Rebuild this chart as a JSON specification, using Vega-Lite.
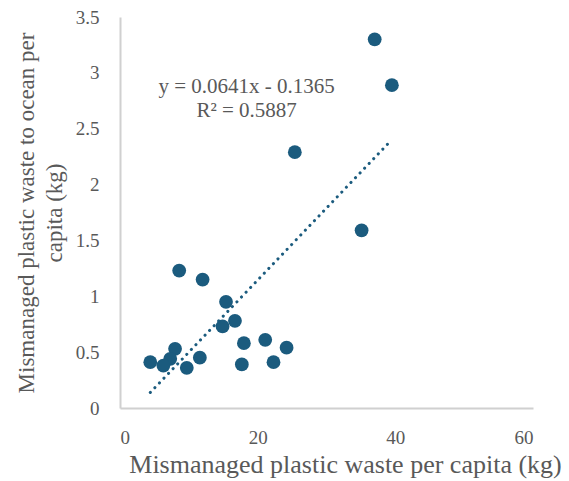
{
  "$schema": "https://vega.github.io/schema/vega-lite/v6.json",
  "autosize": "none",
  "width": 413,
  "height": 391,
  "padding": {"left": 120, "top": 17, "right": 36, "bottom": 73},
  "background": "white",
  "config": {
    "view": {"stroke": null},
    "font": "Liberation Serif",
    "axis": {
      "labelFont": "Liberation Serif",
      "titleFont": "Liberation Serif",
      "labelColor": "#595959",
      "titleColor": "#595959",
      "domainColor": "#d0d0d0",
      "domainWidth": 2,
      "grid": false,
      "ticks": false,
      "labelFontSize": 19,
      "titleFontWeight": "normal"
    }
  },
  "data": {
    "values": [
      {"x": 37.0, "y": 3.30},
      {"x": 39.5, "y": 2.89},
      {"x": 25.4, "y": 2.29},
      {"x": 35.1, "y": 1.59},
      {"x": 8.6, "y": 1.23},
      {"x": 12.0, "y": 1.15},
      {"x": 15.4, "y": 0.95},
      {"x": 16.7, "y": 0.78},
      {"x": 14.9, "y": 0.73},
      {"x": 18.0, "y": 0.58},
      {"x": 21.1, "y": 0.61},
      {"x": 24.2, "y": 0.54},
      {"x": 17.7, "y": 0.39},
      {"x": 22.3, "y": 0.41},
      {"x": 11.6, "y": 0.45},
      {"x": 9.7, "y": 0.36},
      {"x": 8.0, "y": 0.53},
      {"x": 7.3, "y": 0.44},
      {"x": 6.3, "y": 0.38},
      {"x": 4.4, "y": 0.41}
    ]
  },
  "encoding": {
    "x": {
      "field": "x", "type": "quantitative",
      "scale": {"domain": [0, 60], "nice": false},
      "axis": {"values": [0, 20, 40, 60], "labelPadding": 20, "title": "Mismanaged plastic waste per capita (kg)", "titleFontSize": 26, "titlePadding": 4, "titleX": 225, "titleAnchor": "middle"}
    },
    "y": {
      "field": "y", "type": "quantitative",
      "scale": {"domain": [0, 3.5], "nice": false},
      "axis": {"values": [0, 0.5, 1, 1.5, 2, 2.5, 3, 3.5], "format": "~g", "labelPadding": 21, "title": ["Mismanaged plastic waste to ocean per", "capita (kg)"], "titleFontSize": 23, "titlePadding": 9, "titleLineHeight": 28}
    }
  },
  "layer": [
    {
      "mark": {"type": "circle", "size": 190, "color": "#1b5b7e", "opacity": 1}
    },
    {
      "transform": [{"regression": "y", "on": "x"}],
      "mark": {"type": "line", "color": "#1b5b7e", "strokeWidth": 3, "strokeDash": [0.1, 6.5], "strokeCap": "round"}
    },
    {
      "data": {"values": [{"t": "y = 0.0641x - 0.1365", "x": 18.4, "y": 2.87}, {"t": "R² = 0.5887", "x": 18.4, "y": 2.66}]},
      "mark": {"type": "text", "font": "Liberation Serif", "fontSize": 21, "color": "#595959", "align": "center", "baseline": "middle"},
      "encoding": {"text": {"field": "t"}, "x": {"field": "x", "type": "quantitative"}, "y": {"field": "y", "type": "quantitative"}}
    }
  ]
}
